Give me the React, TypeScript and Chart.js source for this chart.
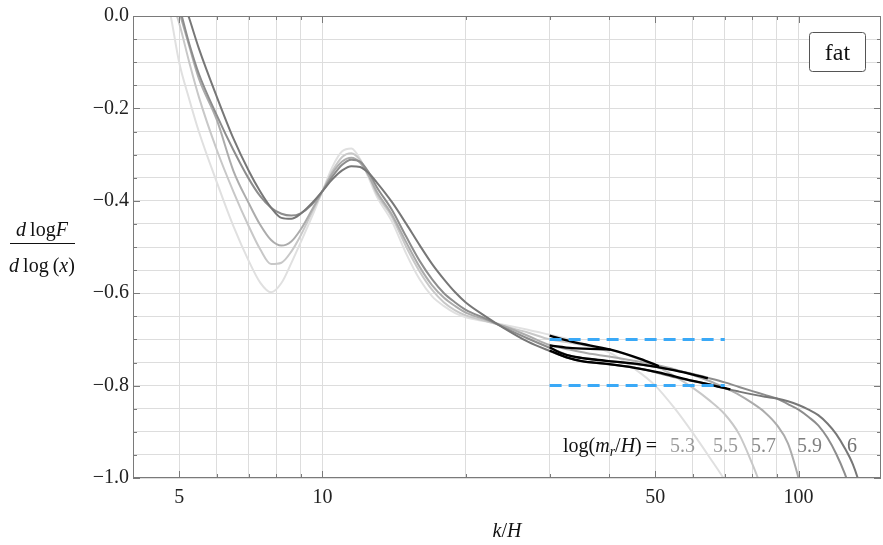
import React, { useEffect, useRef } from "react";
import { Chart, registerables } from "chart.js";

Chart.register(...registerables);

// k/H sample points shared by all curves
const kH = [4.5, 4.8, 5, 5.25, 5.5, 6, 6.5, 7, 7.4, 7.8, 8.2, 8.6, 9, 9.5, 10, 10.5, 11, 11.5, 12, 12.5, 13, 14, 15, 16, 17, 18, 19, 20, 22, 24, 27, 30, 33, 36, 40, 45, 50, 55, 60, 65, 70, 75, 80, 85, 90, 95, 100, 105, 110, 115, 120, 125, 130, 135, 140];

// d log F / d log x for each log(m_r/H)
const curve53 = [0.12, 0.0, -0.10, -0.18, -0.25, -0.36, -0.455, -0.53, -0.577, -0.598, -0.578, -0.535, -0.49, -0.435, -0.379, -0.326, -0.293, -0.287, -0.31, -0.35, -0.39, -0.445, -0.515, -0.57, -0.607, -0.628, -0.643, -0.652, -0.661, -0.668, -0.679, -0.69, -0.70, -0.712, -0.728, -0.762, -0.80, -0.85, -0.903, -0.955, -1.005, -1.06, null, null, null, null, null, null, null, null, null, null, null, null, null];
const curve55 = [0.15, 0.04, -0.015, -0.10, -0.175, -0.29, -0.38, -0.455, -0.505, -0.537, -0.534, -0.51, -0.475, -0.425, -0.379, -0.335, -0.305, -0.297, -0.312, -0.345, -0.385, -0.435, -0.50, -0.553, -0.593, -0.62, -0.637, -0.648, -0.66, -0.671, -0.685, -0.70, -0.707, -0.714, -0.722, -0.738, -0.757, -0.78, -0.805, -0.832, -0.862, -0.905, -0.97, -1.04, null, null, null, null, null, null, null, null, null, null, null];
const curve57 = [0.17, 0.07, 0.01, -0.065, -0.135, -0.225, -0.335, -0.405, -0.452, -0.485, -0.497, -0.488, -0.462, -0.42, -0.379, -0.34, -0.315, -0.307, -0.318, -0.345, -0.38, -0.43, -0.49, -0.543, -0.583, -0.61, -0.628, -0.642, -0.657, -0.671, -0.692, -0.712, -0.722, -0.73, -0.737, -0.746, -0.755, -0.765, -0.777, -0.79, -0.805, -0.82, -0.838, -0.858, -0.885, -0.925, -1.0, -1.09, null, null, null, null, null, null, null];
const curve59 = [0.17, 0.07, 0.02, -0.06, -0.125, -0.215, -0.29, -0.352, -0.39, -0.415, -0.428, -0.432, -0.427, -0.408, -0.379, -0.347, -0.322, -0.311, -0.315, -0.338, -0.37, -0.42, -0.478, -0.53, -0.57, -0.60, -0.62, -0.636, -0.655, -0.674, -0.698, -0.718, -0.735, -0.742, -0.747, -0.753, -0.759, -0.767, -0.775, -0.784, -0.793, -0.803, -0.812, -0.82, -0.828, -0.84, -0.852, -0.868, -0.886, -0.913, -0.948, -0.99, -1.04, null, null];
const curve60 = [0.22, 0.12, 0.06, -0.005, -0.07, -0.175, -0.265, -0.335, -0.38, -0.415, -0.437, -0.439, -0.428, -0.405, -0.379, -0.353, -0.334, -0.325, -0.327, -0.340, -0.36, -0.403, -0.45, -0.496, -0.537, -0.57, -0.598, -0.62, -0.65, -0.675, -0.705, -0.725, -0.741, -0.749, -0.754, -0.761, -0.771, -0.782, -0.79, -0.797, -0.806, -0.813, -0.819, -0.824, -0.828, -0.834, -0.842, -0.852, -0.864, -0.882, -0.905, -0.935, -0.97, -1.02, -1.08];

const massLabels = ["5.3", "5.5", "5.7", "5.9", "6"];
const curveColors = ["#e0e0e0", "#c8c8c8", "#acacac", "#8d8d8d", "#777777"];
const labelColors = ["#999999", "#999999", "#8a8a8a", "#808080", "#707070"];

// black fitted segments
const fitAK = [30, 33.7, 40.3, 46.5, 50.9];
const fitAY = [-0.692, -0.706, -0.722, -0.742, -0.758];
const fitBK = [30, 33.5, 40.3];
const fitBY = [-0.713, -0.719, -0.722];
const fitCK = [30, 31.6, 33.5, 36.8, 41, 46.5, 55, 64.5];
const fitCY = [-0.717, -0.729, -0.737, -0.743, -0.748, -0.754, -0.767, -0.784];
const fitDK = [30, 32.6, 35, 39.6, 45, 50.5, 60, 71.9];
const fitDY = [-0.724, -0.739, -0.747, -0.753, -0.761, -0.771, -0.79, -0.808];

// blue reference levels
const refK = [30, 70];
const refLevels = [-0.7, -0.8];

// axes
const xGrid = [4, 5, 6, 7, 8, 9, 10, 20, 30, 40, 50, 60, 70, 80, 90, 100];
const xTickLabels = [5, 10, 50, 100];
const yGrid = [-1, -0.95, -0.9, -0.85, -0.8, -0.75, -0.7, -0.65, -0.6, -0.55, -0.5, -0.45, -0.4, -0.35, -0.3, -0.25, -0.2, -0.15, -0.1, -0.05, 0];
const yTickLabels = [0, -0.2, -0.4, -0.6, -0.8, -1];

const SERIF = '"Liberation Serif", "Times New Roman", serif';

function isMajorY(v: number) {
  return yTickLabels.some((t) => Math.abs(t - v) < 1e-6);
}
function fmtY(v: number) {
  if (Math.abs(v) < 1e-9) return "0.0";
  return "\u2212" + Math.abs(v).toFixed(1);
}

const decorPlugin = {
  id: "decor",
  afterDatasetsDraw(chart: any) {
    const { ctx, chartArea } = chart;
    const { left, right, top, bottom } = chartArea;
    const xs = chart.scales.x;
    const ys = chart.scales.y;
    ctx.save();
    // frame
    ctx.strokeStyle = "#7a7a7a";
    ctx.lineWidth = 1;
    ctx.strokeRect(left + 0.5, top + 0.5, right - left - 1, bottom - top - 1);
    // inner ticks
    ctx.beginPath();
    yGrid.forEach((v) => {
      const y = Math.round(ys.getPixelForValue(v)) + 0.5;
      const len = isMajorY(v) ? 7 : 4;
      ctx.moveTo(left, y);
      ctx.lineTo(left + len, y);
      ctx.moveTo(right, y);
      ctx.lineTo(right - len, y);
    });
    xGrid.forEach((v) => {
      const x = Math.round(xs.getPixelForValue(v)) + 0.5;
      if (x <= left + 1) return;
      const len = xTickLabels.includes(v) ? 7 : 4;
      ctx.moveTo(x, bottom);
      ctx.lineTo(x, bottom - len);
      ctx.moveTo(x, top);
      ctx.lineTo(x, top + len);
    });
    ctx.stroke();

    // y title fraction
    ctx.fillStyle = "#111";
    ctx.textBaseline = "alphabetic";
    const it = "italic 20px " + SERIF;
    const up = "20px " + SERIF;
    const drawParts = (parts: [string, string][], cx: number, by: number) => {
      let w = 0;
      parts.forEach(([t, f]) => {
        ctx.font = f;
        w += ctx.measureText(t).width;
      });
      let x = cx - w / 2;
      parts.forEach(([t, f]) => {
        ctx.font = f;
        ctx.textAlign = "left";
        ctx.fillText(t, x, by);
        x += ctx.measureText(t).width;
      });
    };
    drawParts([["d", it], ["\u2009log", up], ["F", it]], 42, 236);
    drawParts([["d", it], ["\u2009log\u2009(", up], ["x", it], [")", up]], 42, 272);
    ctx.beginPath();
    ctx.moveTo(10, 243.5);
    ctx.lineTo(75, 243.5);
    ctx.strokeStyle = "#111";
    ctx.lineWidth = 1;
    ctx.stroke();

    // x title
    drawParts([["k", it], ["/", up], ["H", it]], (left + right) / 2, 537);

    // "fat" box
    const bx = 809.5, by = 32.5, bw = 56, bh = 39;
    ctx.beginPath();
    const r = 3;
    ctx.moveTo(bx + r, by);
    ctx.lineTo(bx + bw - r, by);
    ctx.quadraticCurveTo(bx + bw, by, bx + bw, by + r);
    ctx.lineTo(bx + bw, by + bh - r);
    ctx.quadraticCurveTo(bx + bw, by + bh, bx + bw - r, by + bh);
    ctx.lineTo(bx + r, by + bh);
    ctx.quadraticCurveTo(bx, by + bh, bx, by + bh - r);
    ctx.lineTo(bx, by + r);
    ctx.quadraticCurveTo(bx, by, bx + r, by);
    ctx.closePath();
    ctx.fillStyle = "#fff";
    ctx.fill();
    ctx.strokeStyle = "#555";
    ctx.stroke();
    ctx.fillStyle = "#111";
    ctx.font = "24px " + SERIF;
    ctx.textAlign = "center";
    ctx.fillText("fat", bx + bw / 2, by + 27);

    // log(m_r/H) label
    let lx = 563;
    const ly = 452;
    const seg = (t: string, f: string, dy = 0) => {
      ctx.font = f;
      ctx.textAlign = "left";
      ctx.fillText(t, lx, ly + dy);
      lx += ctx.measureText(t).width;
    };
    ctx.fillStyle = "#111";
    seg("log(", up);
    seg("m", it);
    seg("r", "italic 14px " + SERIF, 4);
    seg("/", up);
    seg("H", it);
    seg(")\u2009=", up);
    const numX = [670, 713, 751, 797, 847];
    massLabels.forEach((t, i) => {
      ctx.fillStyle = labelColors[i];
      ctx.font = up;
      ctx.textAlign = "left";
      ctx.fillText(t, numX[i], ly);
    });
    ctx.restore();
  },
};

export default function App() {
  const ref = useRef<HTMLCanvasElement | null>(null);
  useEffect(() => {
    document.body.style.margin = "0";
    const canvas = ref.current!;
    const curves = [curve53, curve55, curve57, curve59, curve60];
    const grayDs = curves.map((c, i) => ({
      label: "log(m_r/H)=" + massLabels[i],
      data: kH.map((k, j) => ({ x: k, y: c[j] })),
      borderColor: curveColors[i],
      borderWidth: 2,
      pointRadius: 0,
      cubicInterpolationMode: "monotone" as const,
      spanGaps: false,
      order: 10 - i,
    }));
    const fits = [
      [fitAK, fitAY],
      [fitBK, fitBY],
      [fitCK, fitCY],
      [fitDK, fitDY],
    ];
    const blackDs = fits.map(([ks, ys]) => ({
      label: "fit",
      data: ks.map((k, j) => ({ x: k, y: ys[j] })),
      borderColor: "#000",
      borderWidth: 2.3,
      pointRadius: 0,
      cubicInterpolationMode: "monotone" as const,
      order: 2,
    }));
    const refDs = refLevels.map((lv) => ({
      label: "ref",
      data: refK.map((k) => ({ x: k, y: lv })),
      borderColor: "#3aa9f7",
      borderWidth: 3,
      borderDash: [12, 7],
      pointRadius: 0,
      order: 0,
    }));

    const chart = new Chart(canvas, {
      type: "line",
      data: { datasets: [...grayDs, ...blackDs, ...refDs] as any },
      options: {
        animation: false,
        responsive: false,
        devicePixelRatio: 1,
        layout: { padding: { top: 14, right: 2, left: 0, bottom: 0 } },
        plugins: { legend: { display: false }, tooltip: { enabled: false } },
        scales: {
          x: {
            type: "logarithmic",
            min: 4.0,
            max: 149,
            afterBuildTicks: (s: any) => {
              s.ticks = xGrid.map((v) => ({ value: v }));
            },
            afterFit: (s: any) => {
              s.height = 67;
            },
            grid: { color: "#dddddd", lineWidth: 1, drawTicks: false },
            border: { display: false },
            ticks: {
              autoSkip: false,
              maxRotation: 0,
              padding: 8,
              color: "#222",
              font: { family: SERIF, size: 20 },
              callback: (v: any) => (xTickLabels.includes(Number(v)) ? String(v) : ""),
            },
          },
          y: {
            type: "linear",
            min: -1,
            max: 0,
            afterBuildTicks: (s: any) => {
              s.ticks = yGrid.map((v) => ({ value: v }));
            },
            afterFit: (s: any) => {
              s.width = 133;
            },
            grid: { color: "#dddddd", lineWidth: 1, drawTicks: false },
            border: { display: false },
            ticks: {
              autoSkip: false,
              padding: 4,
              color: "#222",
              font: { family: SERIF, size: 20 },
              callback: (v: any) => (isMajorY(Number(v)) ? fmtY(Number(v)) : ""),
            },
          },
        },
      } as any,
      plugins: [decorPlugin],
    });
    return () => chart.destroy();
  }, []);
  return (
    <div style={{ width: 883, height: 545 }}>
      <canvas ref={ref} width={883} height={545} style={{ display: "block" }} />
    </div>
  );
}
